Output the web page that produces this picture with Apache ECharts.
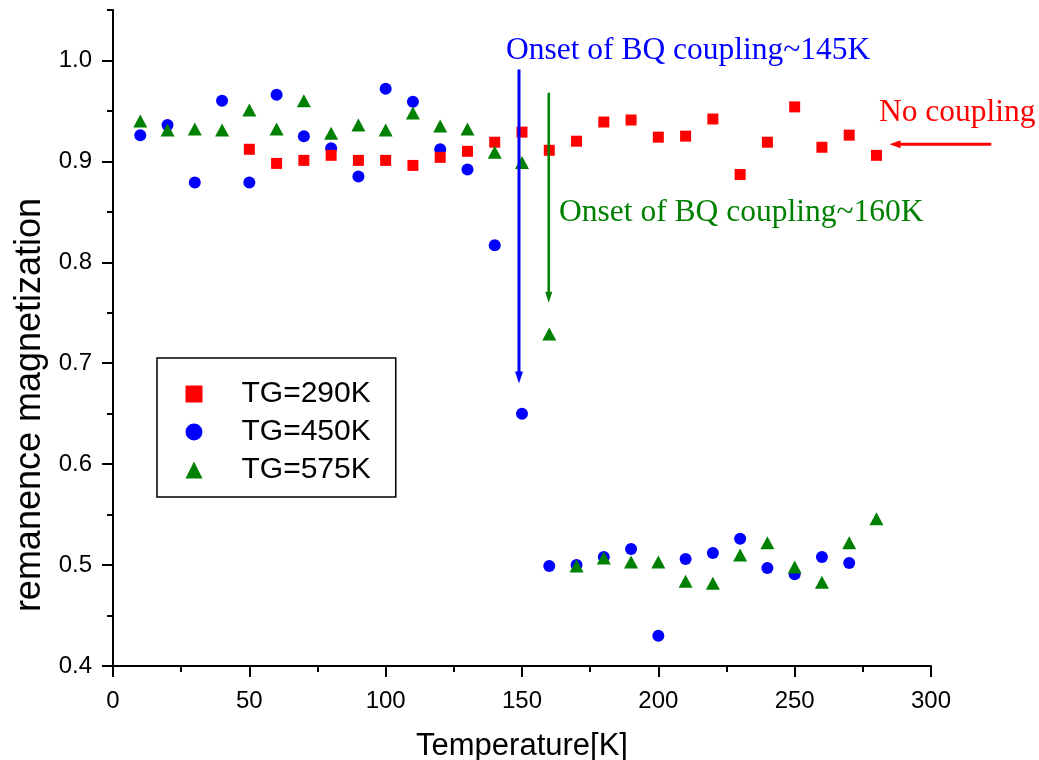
<!DOCTYPE html>
<html>
<head>
<meta charset="utf-8">
<script src="https://cdn.jsdelivr.net/npm/echarts@6/dist/echarts.min.js"></script>
<style>
html,body{margin:0;padding:0;background:#fff;}
#chart{width:1039px;height:760px;}
</style>
</head>
<body>
<div id="chart"></div>
<script>
// ---- data ----
const seriesNames = ['TG=290K', 'TG=450K', 'TG=575K'];

const temps290 = [50, 60, 70, 80, 90, 100, 110, 120, 130, 140, 150, 160, 170, 180, 190, 200, 210, 220, 230, 240, 250, 260, 270, 280];
const vals290  = [0.912, 0.898, 0.901, 0.906, 0.901, 0.901, 0.896, 0.904, 0.910, 0.919, 0.929, 0.911, 0.920, 0.939, 0.941, 0.924, 0.925, 0.942, 0.887, 0.919, 0.954, 0.914, 0.926, 0.906];

const temps450 = [10, 20, 30, 40, 50, 60, 70, 80, 90, 100, 110, 120, 130, 140, 150, 160, 170, 180, 190, 200, 210, 220, 230, 240, 250, 260, 270];
const vals450  = [0.926, 0.936, 0.879, 0.960, 0.879, 0.966, 0.925, 0.913, 0.885, 0.972, 0.959, 0.912, 0.892, 0.817, 0.650, 0.499, 0.500, 0.508, 0.516, 0.430, 0.506, 0.512, 0.526, 0.497, 0.491, 0.508, 0.502];

const temps575 = [10, 20, 30, 40, 50, 60, 70, 80, 90, 100, 110, 120, 130, 140, 150, 160, 170, 180, 190, 200, 210, 220, 230, 240, 250, 260, 270, 280];
const vals575  = [0.940, 0.931, 0.932, 0.931, 0.951, 0.932, 0.960, 0.928, 0.936, 0.931, 0.948, 0.935, 0.932, 0.909, 0.899, 0.729, 0.499, 0.507, 0.503, 0.503, 0.484, 0.482, 0.510, 0.522, 0.498, 0.483, 0.522, 0.546];

const yMajorTicks = [0.4, 0.5, 0.6, 0.7, 0.8, 0.9, 1.0];
const yMinorTicks = [0.45, 0.55, 0.65, 0.75, 0.85, 0.95, 1.05];

const annotationTexts = ['Onset of BQ coupling~145K', 'Onset of BQ coupling~160K', 'No coupling'];

function pairs(xs, ys) { return xs.map((x, i) => [x, ys[i]]); }

const SANS = '"Liberation Sans", Arial, sans-serif';
const SERIF = '"Liberation Serif", "Times New Roman", serif';

const chart = echarts.init(document.getElementById('chart'), null, {renderer: 'canvas'});

const axisLineStyle = {color: '#000', width: 2};

chart.setOption({
  animation: false,
  backgroundColor: '#fff',
  grid: {left: 113, right: 108, top: 10, bottom: 94, containLabel: false, outerBoundsMode: 'none'},
  legend: {
    orient: 'vertical',
    left: 157,
    top: 358,
    padding: [21, 25, 12, 28.5],
    itemWidth: 17,
    itemHeight: 17,
    itemGap: 8,
    borderColor: '#000',
    borderWidth: 1.5,
    textStyle: {fontFamily: SANS, fontSize: 30, color: '#000', lineHeight: 30, padding: [0, 0, 0, 34]},
    data: [
      {name: seriesNames[0], icon: 'rect'},
      {name: seriesNames[1], icon: 'circle'},
      {name: seriesNames[2], icon: 'triangle'}
    ]
  },
  xAxis: {
    type: 'value',
    min: 0, max: 300, interval: 50,
    name: 'Temperature[K]',
    nameLocation: 'middle',
    nameGap: 65,
    nameTextStyle: {fontFamily: SANS, fontSize: 31, color: '#000'},
    axisLine: {show: true, onZero: false, lineStyle: axisLineStyle},
    axisTick: {show: true, inside: false, length: 11, lineStyle: {color: '#000', width: 2}},
    minorTick: {show: true, splitNumber: 2, length: 6, lineStyle: {color: '#000', width: 2}},
    axisLabel: {fontFamily: SANS, fontSize: 24, color: '#000', margin: 23},
    splitLine: {show: false},
    minorSplitLine: {show: false}
  },
  yAxis: [{
    type: 'value',
    position: 'left',
    min: 0.4, max: 1.05, interval: 0.1,
    name: 'remanence magnetization',
    nameLocation: 'middle',
    nameGap: 64,
    nameTextStyle: {fontFamily: SANS, fontSize: 36, color: '#000', padding: [0, 134, 0, 0]},
    axisLine: {show: true, onZero: false, lineStyle: axisLineStyle},
    axisTick: {show: true, inside: false, length: 11, customValues: yMajorTicks, lineStyle: {color: '#000', width: 2}},
    axisLabel: {fontFamily: SANS, fontSize: 24, color: '#000', margin: 21, customValues: yMajorTicks,
      formatter: v => v.toFixed(1)},
    splitLine: {show: false}
  }, {
    type: 'value',
    position: 'left',
    min: 0.4, max: 1.05, interval: 0.1,
    axisLine: {show: false},
    axisTick: {show: true, inside: false, length: 6, customValues: yMinorTicks, lineStyle: {color: '#000', width: 2}},
    axisLabel: {show: false},
    splitLine: {show: false}
  }],
  series: [
    {
      name: seriesNames[1], type: 'scatter', symbol: 'circle', symbolSize: 12, z: 2,
      itemStyle: {color: '#0000ff', opacity: 1}, data: pairs(temps450, vals450)
    },
    {
      name: seriesNames[0], type: 'scatter', symbol: 'rect', symbolSize: 11, z: 3,
      itemStyle: {color: '#ff0000', opacity: 1}, data: pairs(temps290, vals290)
    },
    {
      name: seriesNames[2], type: 'scatter', symbol: 'triangle', symbolSize: [14, 13], z: 4,
      itemStyle: {color: '#008000', opacity: 1}, data: pairs(temps575, vals575)
    }
  ]
});

// ---- annotations (anchored in data space, converted through the axes) ----
const annot = {
  blueLine: {x: 148.9, yTop: 0.991, yTip: 0.680},
  greenLine: {x: 159.8, yTop: 0.968, yTip: 0.760},
  redArrow: {y: 0.917, xTail: 322.1, xTip: 284.8},
  blueText: {x: 144.1, y: 1.0095},
  greenText: {x: 163.6, y: 0.849},
  redText: {x: 280.9, y: 0.948}
};
function px(p) { return chart.convertToPixel({xAxisIndex: 0, yAxisIndex: 0}, p); }

function vArrow(a, color, width, headLen, headHalf) {
  const top = px([a.x, a.yTop]);
  const tip = px([a.x, a.yTip]);
  return [
    {type: 'line', shape: {x1: top[0], y1: top[1], x2: tip[0], y2: tip[1] - headLen + 2},
      style: {stroke: color, lineWidth: width}, z: 10},
    {type: 'polygon', shape: {points: [[tip[0], tip[1]], [tip[0] - headHalf, tip[1] - headLen], [tip[0] + headHalf, tip[1] - headLen]]},
      style: {fill: color}, z: 10}
  ];
}
function hArrow(a, color, width, headLen, headHalf) {
  const tail = px([a.xTail, a.y]);
  const tip = px([a.xTip, a.y]);
  return [
    {type: 'line', shape: {x1: tail[0], y1: tail[1], x2: tip[0] + headLen - 2, y2: tip[1]},
      style: {stroke: color, lineWidth: width}, z: 10},
    {type: 'polygon', shape: {points: [[tip[0], tip[1]], [tip[0] + headLen, tip[1] - headHalf], [tip[0] + headLen, tip[1] + headHalf]]},
      style: {fill: color}, z: 10}
  ];
}
function label(a, text, color) {
  const p = px([a.x, a.y]);
  return {type: 'text', x: p[0], y: p[1], z: 10,
    style: {text: text, fill: color, font: '31.5px ' + SERIF, textAlign: 'left', textVerticalAlign: 'middle'}};
}

chart.setOption({
  graphic: [].concat(
    vArrow(annot.blueLine, '#0000ff', 3, 12, 4),
    vArrow(annot.greenLine, '#008000', 2.5, 11, 3.5),
    hArrow(annot.redArrow, '#ff0000', 3, 11, 4),
    [label(annot.blueText, annotationTexts[0], '#0000ff'),
     label(annot.greenText, annotationTexts[1], '#008000'),
     label(annot.redText, annotationTexts[2], '#ff0000')]
  )
});
</script>
</body>
</html>
